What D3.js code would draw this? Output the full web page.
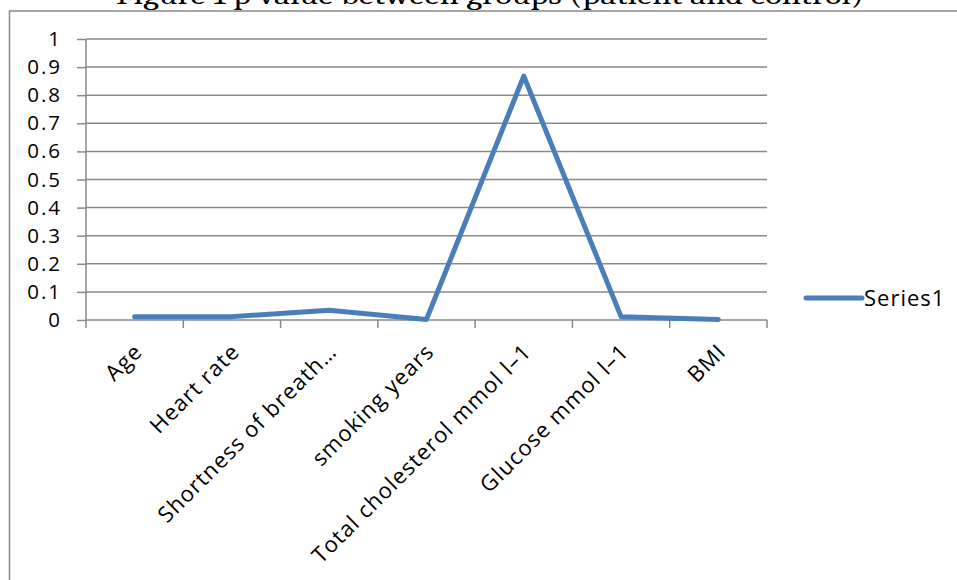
<!DOCTYPE html>
<html>
<head>
<meta charset="utf-8">
<script src="https://cdn.jsdelivr.net/npm/d3@7"></script>
<style>
  body { margin: 0; background: #fff; }
  text { font-family: "Open Sans", sans-serif; fill: #000; }
</style>
</head>
<body>
<div class="chart"></div>
<script>
// DATA
// ----------------------------
const categories = ['Age', 'Heart rate', 'Shortness of breath…', 'smoking years',
  'Total cholesterol mmol l–1', 'Glucose mmol l–1', 'BMI']
const series1 = [0.012, 0.012, 0.035, 0.002, 0.868, 0.012, 0.002]
const yTicks = [0, 0.1, 0.2, 0.3, 0.4, 0.5, 0.6, 0.7, 0.8, 0.9, 1]
const seriesName = 'Series1'
const title = 'Figure 1  p value between groups (patient and control)'

// SETUP
// ----------------------------
const fullWidth = 957
const fullHeight = 580
const margin = { top: 39, left: 86, right: 190, bottom: 260 }
const width = fullWidth - margin.left - margin.right   // 681
const height = fullHeight - margin.top - margin.bottom // 281

const gridColor = '#898989'
const lineColor = '#4a7ebb'

const svg = d3.select('.chart')
  .append('svg')
    .attr('width', fullWidth)
    .attr('height', fullHeight)

// chart area border (runs off the right and bottom of the picture)
svg.append('rect')
  .attr('x', 9.5)
  .attr('y', 11)
  .attr('width', fullWidth + 20)
  .attr('height', fullHeight + 20)
  .attr('fill', 'none')
  .attr('stroke', gridColor)
  .attr('stroke-width', 1.5)

// title, cut by the top of the picture
svg.append('text')
  .attr('x', 490)
  .attr('y', 4)
  .attr('text-anchor', 'middle')
  .attr('textLength', 748)
  .attr('lengthAdjust', 'spacingAndGlyphs')
  .style('font-family', 'Cambria, "DejaVu Serif", serif')
  .style('font-size', '28px')
  .text(title)

const g = svg.append('g')
  .attr('transform', `translate(${margin.left}, ${margin.top})`)

// SCALES
// ----------------------------
const xScale = d3.scaleBand()
  .domain(categories)
  .range([0, width])

const yScale = d3.scaleLinear()
  .domain([0, 1])
  .range([height, 0])

// gridlines
g.selectAll('.grid')
  .data(yTicks.filter(d => d > 0))
  .enter()
  .append('line')
    .attr('class', 'grid')
    .attr('x1', 0)
    .attr('x2', width)
    .attr('y1', d => yScale(d))
    .attr('y2', d => yScale(d))
    .attr('stroke', gridColor)
    .attr('stroke-width', 1.5)

// Y AXIS
// ----------------------------
const yAxis = d3.axisLeft(yScale)
  .tickValues(yTicks)
  .tickFormat(d3.format('~g'))
  .tickSize(9)
  .tickPadding(15)
g.append('g')
  .call(yAxis)
  .call(ax => ax.select('.domain').attr('stroke', gridColor).attr('stroke-width', 1.5).attr('d', `M0,0V${height}`))
  .call(ax => ax.selectAll('.tick line').attr('stroke', gridColor).attr('stroke-width', 1.5))
  .call(ax => ax.selectAll('.tick text')
    .style('font-size', '20.5px')
    .style('letter-spacing', '2px')
    .style('font-family', '"Open Sans", sans-serif'))

// X AXIS
// ----------------------------
const boundaries = d3.range(categories.length + 1).map(i => i * xScale.step())
const xAxisG = g.append('g')
  .attr('transform', `translate(0, ${height})`)

xAxisG.append('line')
  .attr('x1', 0)
  .attr('x2', width)
  .attr('stroke', gridColor)
  .attr('stroke-width', 1.5)

xAxisG.selectAll('.xtick')
  .data(boundaries)
  .enter()
  .append('line')
    .attr('class', 'xtick')
    .attr('x1', d => d)
    .attr('x2', d => d)
    .attr('y1', 0)
    .attr('y2', 8)
    .attr('stroke', gridColor)
    .attr('stroke-width', 1.5)

xAxisG.selectAll('.xlabel')
  .data(categories)
  .enter()
  .append('text')
    .attr('class', 'xlabel')
    .attr('text-anchor', 'end')
    .attr('transform', d => `translate(${xScale(d) + xScale.bandwidth() / 2 + 9}, 33) rotate(-45)`)
    .style('font-size', '22px')
    .style('letter-spacing', '1.1px')
    .text(d => d)

// LINE
// ----------------------------
const line = d3.line()
  .x((d, i) => xScale(categories[i]) + xScale.bandwidth() / 2)
  .y(d => yScale(d))

g.append('path')
  .datum(series1)
  .attr('d', line)
  .attr('fill', 'none')
  .attr('stroke', lineColor)
  .attr('stroke-width', 5)
  .attr('stroke-linejoin', 'round')
  .attr('stroke-linecap', 'round')

// LEGEND
// ----------------------------
const legend = svg.append('g')
  .attr('transform', 'translate(806, 298)')
legend.append('line')
  .attr('x1', 0)
  .attr('x2', 56)
  .attr('stroke', lineColor)
  .attr('stroke-width', 5)
  .attr('stroke-linecap', 'round')
legend.append('text')
  .attr('x', 58)
  .attr('y', 8)
  .style('font-size', '22px')
  .style('letter-spacing', '1px')
  .text(seriesName)
</script>
</body>
</html>
